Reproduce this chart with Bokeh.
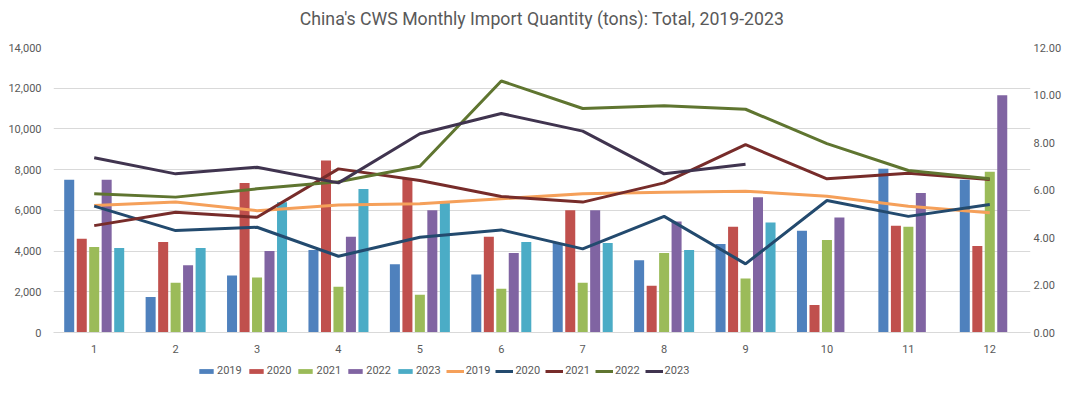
from bokeh.plotting import figure
from bokeh.layouts import column
from bokeh.models import (ColumnDataSource, Range1d, LinearAxis, FixedTicker,
                          NumeralTickFormatter, Legend, LegendItem, Label)
from bokeh.transform import dodge
from bokeh.embed import file_html
from bokeh.resources import INLINE

months = [1, 2, 3, 4, 5, 6, 7, 8, 9, 10, 11, 12]
years = ["2019", "2020", "2021", "2022", "2023"]
title_text = "China's CWS Monthly Import Quantity (tons): Total, 2019-2023"

# Bars: monthly import quantity (tons), left axis
bar_2019 = [7500, 1750, 2800, 4050, 3350, 2850, 4400, 3550, 4350, 5000, 8050, 7500]
bar_2020 = [4600, 4450, 7350, 8450, 7550, 4700, 6000, 2300, 5200, 1350, 5250, 4250]
bar_2021 = [4200, 2450, 2700, 2250, 1850, 2150, 2450, 3900, 2650, 4550, 5200, 7900]
bar_2022 = [7500, 3300, 4000, 4700, 6000, 3900, 6000, 5450, 6650, 5650, 6850, 11650]
bar_2023 = [4150, 4150, 6400, 7050, 6450, 4450, 4400, 4050, 5400]

# Lines: right axis
line_2019 = [5.35, 5.49, 5.13, 5.37, 5.42, 5.63, 5.84, 5.91, 5.95, 5.74, 5.32, 5.04]
line_2020 = [5.32, 4.29, 4.43, 3.21, 4.01, 4.32, 3.52, 4.89, 2.89, 5.56, 4.89, 5.39]
line_2021 = [4.50, 5.06, 4.85, 6.89, 6.40, 5.73, 5.49, 6.30, 7.91, 6.47, 6.71, 6.44]
line_2022 = [5.84, 5.70, 6.05, 6.35, 7.00, 10.59, 9.43, 9.55, 9.40, 7.95, 6.82, 6.47]
line_2023 = [7.36, 6.68, 6.96, 6.30, 8.37, 9.22, 8.48, 6.68, 7.08]

left_ticks = [0, 2000, 4000, 6000, 8000, 10000, 12000, 14000]
right_ticks = [0, 2, 4, 6, 8, 10, 12]

bar_series = [bar_2019, bar_2020, bar_2021, bar_2022, bar_2023]
line_series = [line_2019, line_2020, line_2021, line_2022, line_2023]
bar_colors = ["#4F81BD", "#C0504D", "#9BBB59", "#8064A2", "#4BACC6"]
line_colors = ["#F5A05A", "#234A6E", "#772C2A", "#5F7530", "#40344F"]
offsets = [-0.307, -0.153, 0.0, 0.153, 0.307]

FONT = "Roboto"
GRAY = "#595959"
NAN = float("nan")


def strip(height):
    f = figure(width=1064, height=height, output_backend="svg",
               toolbar_location=None, x_range=Range1d(0, 1),
               y_range=Range1d(0, 1), x_axis_location=None,
               y_axis_location=None, min_border_left=0, min_border_right=0,
               min_border_top=0, min_border_bottom=0)
    f.grid.visible = False
    f.outline_line_color = None
    f.background_fill_color = "white"
    f.border_fill_color = "white"
    return f


# Title strip
tf = strip(30)
tf.add_layout(Label(x=0.5, y=0.4, text=title_text, text_align="center",
                    text_baseline="middle", text_font=FONT,
                    text_font_size="17.7px", text_color=GRAY))

# Main chart
p = figure(width=1064, height=329, output_backend="svg", toolbar_location=None,
           x_range=Range1d(0.5, 12.5), y_range=Range1d(0, 14000),
           min_border_left=53, min_border_right=31, min_border_top=17,
           min_border_bottom=27)
p.outline_line_color = None
p.background_fill_color = "white"
p.border_fill_color = "white"

p.extra_y_ranges = {"right": Range1d(0, 12)}

# x axis
xa = p.xaxis[0]
xa.ticker = FixedTicker(ticks=months)
xa.axis_line_color = "#d9d9d9"
xa.major_tick_line_color = None
xa.minor_tick_line_color = None
xa.major_tick_out = 0
xa.major_tick_in = 0
xa.major_label_text_font = FONT
xa.major_label_text_font_size = "11px"
xa.major_label_text_color = GRAY
xa.major_label_standoff = 12

# left axis
ya = p.yaxis[0]
ya.ticker = FixedTicker(ticks=left_ticks)
ya.formatter = NumeralTickFormatter(format="0,0")
ya.axis_line_color = None
ya.major_tick_line_color = None
ya.minor_tick_line_color = None
ya.major_tick_out = 0
ya.major_tick_in = 0
ya.major_label_text_font = FONT
ya.major_label_text_font_size = "11px"
ya.major_label_text_color = GRAY
ya.major_label_standoff = 12

# right axis
ra = LinearAxis(y_range_name="right", ticker=FixedTicker(ticks=right_ticks),
                formatter=NumeralTickFormatter(format="0.00"))
ra.axis_line_color = None
ra.major_tick_line_color = None
ra.minor_tick_line_color = None
ra.major_tick_out = 0
ra.major_tick_in = 0
ra.major_label_text_font = FONT
ra.major_label_text_font_size = "11px"
ra.major_label_text_color = GRAY
ra.major_label_standoff = 3
p.add_layout(ra, "right")

p.xgrid.grid_line_color = None
p.ygrid.grid_line_color = "#d9d9d9"
p.ygrid.grid_line_width = 1
p.ygrid.ticker = FixedTicker(ticks=left_ticks)

for vals, col, off in zip(bar_series, bar_colors, offsets):
    src = ColumnDataSource(dict(m=months[:len(vals)], v=vals))
    p.vbar(x=dodge("m", off), top="v", width=0.123, source=src,
           fill_color=col, line_color=None)

for vals, col in zip(line_series, line_colors):
    src = ColumnDataSource(dict(m=months[:len(vals)], v=vals))
    p.line(x="m", y="v", source=src, y_range_name="right",
           line_color=col, line_width=3)

# Legend strip below the chart (swatch renderers hold no drawable data)
lf = strip(18)
items = []
for yr, col in zip(years, bar_colors):
    r = lf.vbar(x=[NAN], top=[NAN], width=0.1, fill_color=col, line_color=None)
    items.append(LegendItem(label=yr, renderers=[r]))
for yr, col in zip(years, line_colors):
    r = lf.line(x=[NAN, NAN], y=[NAN, NAN], line_color=col, line_width=3)
    items.append(LegendItem(label=yr, renderers=[r]))

legend = Legend(items=items, orientation="horizontal", location=(144, 0))
legend.label_text_font = FONT
legend.label_text_font_size = "11px"
legend.label_text_color = GRAY
legend.glyph_width = 18
legend.glyph_height = 6
legend.label_standoff = 2
legend.spacing = 5
legend.padding = 2
legend.margin = 0
legend.border_line_color = None
legend.background_fill_alpha = 0
lf.add_layout(legend, "center")

layout = column(tf, p, lf, spacing=0)
open("out.html", "w").write(file_html(layout, INLINE))
